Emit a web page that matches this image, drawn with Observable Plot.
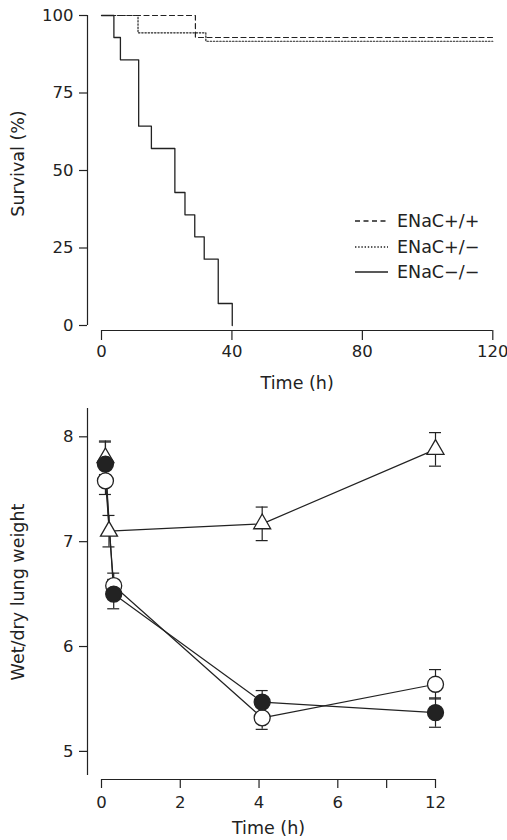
<!DOCTYPE html>
<html><head><meta charset="utf-8">
<script src="https://cdn.jsdelivr.net/npm/d3@7"></script>
<script src="https://cdn.jsdelivr.net/npm/@observablehq/plot@0.6"></script>
<style>
body{margin:0;background:#fff;}
#wrap{position:relative;width:507px;height:840px;font-family:"DejaVu Sans",sans-serif;color:#222;}
#top,#bottom{display:block;line-height:0;}
#legend{position:absolute;left:355px;top:208.5px;line-height:normal;}
.row{display:flex;align-items:center;height:25.5px;font-size:17.5px;color:#222;}
.row svg{margin-right:9px;}
</style></head><body>
<div id="wrap"><div id="top"></div><div id="bottom"></div><div id="legend"></div></div>
<script>
// ---------- Panel A: survival ----------
const genotypes = ["ENaC+/+", "ENaC+/−", "ENaC−/−"];
const wtTime = [0, 28.8, 120];
const wtSurvival = [100, 92.9, 92.9];
const hetTime = [0, 11.2, 32, 120];
const hetSurvival = [100, 94.4, 91.7, 91.7];
const koTime = [0, 3.8, 5.8, 11.4, 15.3, 22.5, 25.6, 28.6, 31.5, 35.8, 40.1];
const koSurvival = [100, 92.9, 85.7, 64.3, 57.1, 42.9, 35.7, 28.6, 21.4, 7.1, 0];
const survXTicks = [0, 40, 80, 120];
const survYTicks = [0, 25, 50, 75, 100];
const survXLabel = "Time (h)";
const survYLabel = "Survival (%)";

// ---------- Panel B: wet/dry lung weight ----------
const lwSeries = ["open triangle", "open circle", "filled circle"];
const triTime = [0.1, 0.19, 4.08, 12];
const triValue = [7.80, 7.10, 7.17, 7.88];
const triErr = [0.16, 0.15, 0.16, 0.16];
const openTime = [0.1, 0.31, 4.08, 12];
const openValue = [7.58, 6.58, 5.32, 5.64];
const openErr = [0.13, 0.12, 0.11, 0.14];
const filledTime = [0.1, 0.31, 4.08, 12];
const filledValue = [7.74, 6.50, 5.47, 5.37];
const filledErr = [0.21, 0.14, 0.11, 0.14];
const lwXTicks = [0, 2, 4, 6, 9, 12];
const lwXTickLabels = ["0", "2", "4", "6", "", "12"];
const lwXBreaks = [0, 6, 12];
const lwYTicks = [5, 6, 7, 8];
const lwYDomain = [4.77, 8.27];
const lwXLabel = "Time (h)";
const lwYLabel = "Wet/dry lung weight";

const ink = "#222";
const font = "'DejaVu Sans', sans-serif";

const toRows = (g, T, V) => T.map((t, i) => ({g, t, v: V[i]}));
const wt = toRows(genotypes[0], wtTime, wtSurvival);
const het = toRows(genotypes[1], hetTime, hetSurvival);
const ko = toRows(genotypes[2], koTime, koSurvival);
const dashes = {[genotypes[0]]: "5,3.5", [genotypes[1]]: "1.4,1.8", [genotypes[2]]: null};

const W = 507;
const topPlot = Plot.plot({
  width: W, height: 400,
  marginLeft: 101, marginRight: 14.7, marginTop: 15, marginBottom: 75,
  style: {fontFamily: font, fontSize: "16.5px", color: ink, background: "white", overflow: "visible"},
  x: {domain: [0, 120]},
  y: {domain: [0, 100]},
  marks: [
    Plot.ruleX([0], {dx: -14, stroke: ink, strokeWidth: 1.2}),
    Plot.ruleY([0], {dy: 5, stroke: ink, strokeWidth: 1.2}),
    Plot.axisY({ticks: survYTicks, tickFormat: d => String(d), tickSize: 8, tickPadding: 6, dx: -14, label: null, strokeWidth: 1.2}),
    Plot.axisX({ticks: survXTicks, tickFormat: d => String(d), tickSize: 10, tickPadding: 5, dy: 5, label: null, strokeWidth: 1.2}),
    Plot.line(ko, {x: "t", y: "v", curve: "step-after", stroke: ink, strokeWidth: 1.3}),
    Plot.line(wt, {x: "t", y: "v", curve: "step-after", stroke: ink, strokeWidth: 1.2, strokeDasharray: dashes[genotypes[0]]}),
    Plot.line(het, {x: "t", y: "v", curve: "step-after", stroke: ink, strokeWidth: 1.2, strokeDasharray: dashes[genotypes[1]]}),
    Plot.text([survXLabel], {text: d => d, frameAnchor: "bottom", textAnchor: "middle", lineAnchor: "middle", dy: 58, fontSize: 17.5, fill: ink}),
    Plot.text([survYLabel], {text: d => d, frameAnchor: "left", textAnchor: "middle", lineAnchor: "middle", rotate: -90, dx: -83.5, dy: -7, fontSize: 17.5, fill: ink})
  ]
});
document.getElementById("top").appendChild(topPlot);

// legend
const legend = d3.select("#legend");
genotypes.forEach(g => {
  const row = legend.append("div").attr("class", "row");
  const svg = row.append("svg").attr("width", 33).attr("height", 10);
  svg.append("line").attr("x1", 0).attr("x2", 33).attr("y1", 5).attr("y2", 5)
    .attr("stroke", ink).attr("stroke-width", 1.3)
    .attr("stroke-dasharray", dashes[g]);
  row.append("span").text(g);
});

// bottom panel
const mk = (g, T, V, E) => T.map((t, i) => ({g, t, v: V[i], lo: V[i] - E[i], hi: V[i] + E[i]}));
const tri = mk(lwSeries[0], triTime, triValue, triErr);
const open = mk(lwSeries[1], openTime, openValue, openErr);
const filled = mk(lwSeries[2], filledTime, filledValue, filledErr);
const all = [...tri, ...open, ...filled];

const bML = 101, bMR = 72;
const span = W - bML - bMR;
const errMarks = [
  Plot.ruleX(all, {x: "t", y1: "lo", y2: "hi", stroke: ink, strokeWidth: 1.2}),
  Plot.ruleY(all, {x1: "t", x2: "t", y: "hi", insetLeft: -6, insetRight: -6, stroke: ink, strokeWidth: 1.2}),
  Plot.ruleY(all, {x1: "t", x2: "t", y: "lo", insetLeft: -6, insetRight: -6, stroke: ink, strokeWidth: 1.2})
];

const bottomPlot = Plot.plot({
  width: W, height: 440,
  marginLeft: bML, marginRight: bMR, marginTop: 8, marginBottom: 65,
  style: {fontFamily: font, fontSize: "16.5px", color: ink, background: "white", overflow: "visible"},
  x: {type: "linear", domain: lwXBreaks, range: [bML, bML + span * 0.7075, W - bMR]},
  y: {domain: lwYDomain},
  marks: [
    Plot.ruleX([lwXBreaks[0]], {dx: -14, stroke: ink, strokeWidth: 1.2}),
    Plot.ruleY([lwYDomain[0]], {dy: 4, stroke: ink, strokeWidth: 1.2}),
    Plot.axisY({ticks: lwYTicks, tickFormat: d => String(d), tickSize: 8, tickPadding: 6, dx: -14, label: null, strokeWidth: 1.2}),
    Plot.axisX({ticks: lwXTicks, tickFormat: d => lwXTickLabels[lwXTicks.indexOf(d)], tickSize: 9, tickPadding: 8, dy: 4, label: null, strokeWidth: 1.2}),
    ...errMarks,
    Plot.line(tri, {x: "t", y: "v", stroke: ink, strokeWidth: 1.2}),
    Plot.line(open, {x: "t", y: "v", stroke: ink, strokeWidth: 1.2}),
    Plot.line(filled, {x: "t", y: "v", stroke: ink, strokeWidth: 1.2}),
    Plot.dot(tri, {x: "t", y: "v", symbol: "triangle", r: 6.3, fill: "white", stroke: ink, strokeWidth: 1.3}),
    Plot.dot(open, {x: "t", y: "v", symbol: "circle", r: 8, fill: "white", stroke: ink, strokeWidth: 1.3}),
    Plot.dot(filled, {x: "t", y: "v", symbol: "circle", r: 8, fill: ink, stroke: ink, strokeWidth: 1.3}),
    Plot.text([lwXLabel], {text: d => d, frameAnchor: "bottom", textAnchor: "middle", lineAnchor: "middle", dy: 53, fontSize: 17.5, fill: ink}),
    Plot.text([lwYLabel], {text: d => d, frameAnchor: "left", textAnchor: "middle", lineAnchor: "middle", rotate: -90, dx: -83.5, fontSize: 17.5, fill: ink})
  ]
});
document.getElementById("bottom").appendChild(bottomPlot);
</script>
</body></html>
